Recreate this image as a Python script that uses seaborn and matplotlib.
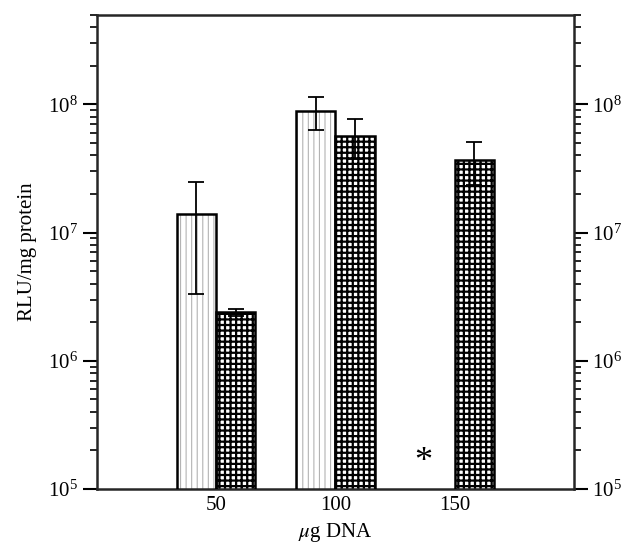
import numpy as np
import pandas as pd
import matplotlib
matplotlib.use("Agg")
import matplotlib.pyplot as plt
from matplotlib.patches import Rectangle
from matplotlib.ticker import LogLocator, NullFormatter
import seaborn as sns

# data (RLU/mg protein, mean and SD)
dna_ug = ["50", "100", "150"]
series_a = [1.4e7, 8.9e7, np.nan]   # 150 ug: not detected (*)
series_a_sd = [1.07e7, 2.6e7, np.nan]
series_b = [2.4e6, 5.7e7, 3.7e7]
series_b_sd = [1.5e5, 1.95e7, 1.35e7]

rows = []
for d, a, sa, b, sb in zip(dna_ug, series_a, series_a_sd, series_b, series_b_sd):
    rows.append({"dna": d, "group": "A", "rlu": a, "sd": sa})
    rows.append({"dna": d, "group": "B", "rlu": b, "sd": sb})
df = pd.DataFrame(rows).dropna()

sns.set_style("ticks")
plt.rcParams["font.family"] = ["Liberation Serif", "DejaVu Serif"]
plt.rcParams["mathtext.fontset"] = "stix"
plt.rcParams["text.color"] = "black"
plt.rcParams["xtick.color"] = "black"
plt.rcParams["ytick.color"] = "black"
plt.rcParams["axes.labelcolor"] = "black"
plt.rcParams["hatch.linewidth"] = 1.0

fig = plt.figure(figsize=(6.25, 5.47), dpi=100)
ax = fig.add_axes([0.155, 0.106, 0.763, 0.867])

sns.barplot(data=df, x="dna", y="rlu", hue="group", order=dna_ug,
            hue_order=["A", "B"], errorbar=None, width=0.66,
            palette=["white", "white"], legend=False, ax=ax)

# (hatch, hatch colour, hatch line width)
styles = {"A": ("|||", "0.7", 0.8), "B": ("+++", "black", 1.6)}
for cont, grp in zip(ax.containers, ["A", "B"]):
    hatch, hc, hlw = styles[grp]
    sub = df[df["group"] == grp]
    for bar, (_, r) in zip(cont, sub.iterrows()):
        bar.set_hatch(hatch)
        bar.set_edgecolor(hc)
        bar.set_linewidth(0)
        if hasattr(bar, "set_hatch_linewidth"):
            bar.set_hatch_linewidth(hlw)
        ax.add_patch(Rectangle(bar.get_xy(), bar.get_width(), bar.get_height(),
                               fill=False, ec="black", lw=1.8, zorder=3))
        xc = bar.get_x() + bar.get_width() / 2
        ax.errorbar(xc, r["rlu"], yerr=r["sd"], fmt="none", ecolor="black",
                    elinewidth=1.3, capsize=6, capthick=1.3, zorder=4)

ax.text(1.74, 1.6e5, "*", fontsize=26, ha="center", va="center")

ax.set_yscale("log")
ax.set_ylim(1e5, 5e8)
ax.set_xlim(-1, 3)
ax.yaxis.set_major_locator(LogLocator(base=10, numticks=10))
ax.yaxis.set_minor_locator(LogLocator(base=10, subs=np.arange(2, 10), numticks=10))
ax.yaxis.set_minor_formatter(NullFormatter())

for s in ax.spines.values():
    s.set_visible(True)
    s.set_linewidth(1.8)
    s.set_color("0.15")
ax.tick_params(axis="y", which="major", direction="out", length=10, width=1.5,
               left=True, right=True, labelleft=True, labelright=True, labelsize=15)
ax.tick_params(axis="y", which="minor", direction="out", length=5, width=1.2,
               left=True, right=True)
ax.tick_params(axis="x", length=0, labelsize=15, pad=5)

ax.set_xlabel(r"$\mu$g DNA", fontsize=15, labelpad=4)
ax.set_ylabel("RLU/mg protein", fontsize=15, labelpad=8)

fig.savefig("out.png", dpi=100)
